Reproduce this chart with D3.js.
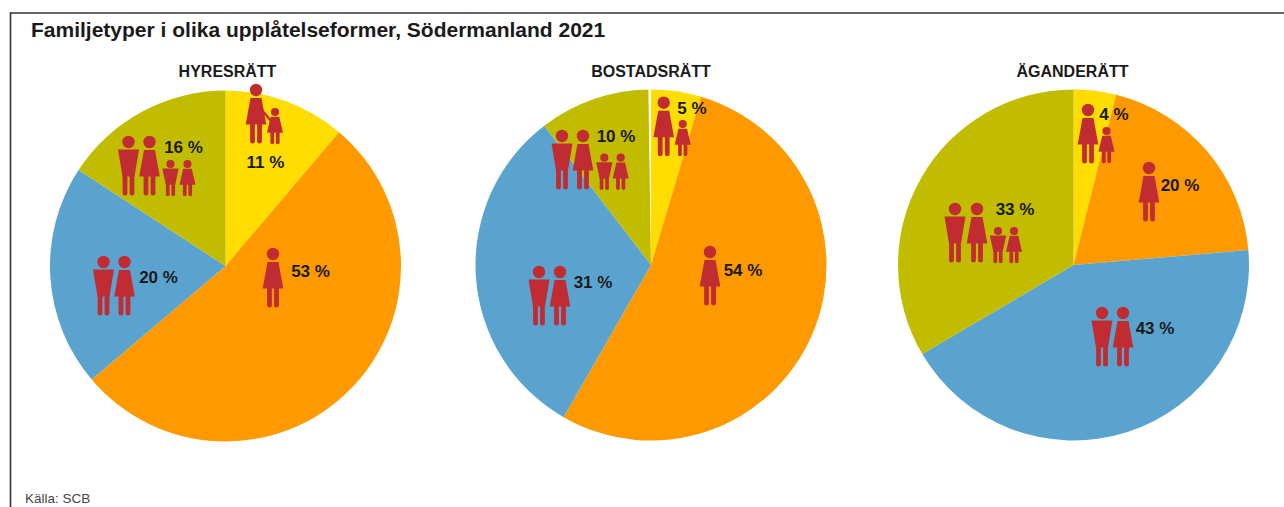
<!DOCTYPE html>
<html>
<head>
<meta charset="utf-8">
<script src="https://cdn.jsdelivr.net/npm/d3@7"></script>
<style>
  html, body { margin: 0; padding: 0; background: #fff; }
  svg { display: block; }
  text { font-family: "Liberation Sans", sans-serif; fill: #1a1a1a; }
</style>
</head>
<body>
<svg width="1284" height="507"></svg>
<script>
// values, share of families in percent
// the slices are a bit finer than the printed labels, which are rounded
var tenures = ["HYRESRÄTT", "BOSTADSRÄTT", "ÄGANDERÄTT"];
var familyTypes = ["Ensamstående med barn", "Ensamstående", "Par utan barn", "Par med barn"];
var hyresratt = [11.2, 52.6, 20.4, 15.8];
var bostadsratt = [4.6, 53.7, 31.3, 10.4];
var aganderatt = [3.9, 19.7, 42.8, 33.4];
var allValues = [hyresratt, bostadsratt, aganderatt];

var colors = ["#ffdd00", "#ff9900", "#5ba3cf", "#c2bc00"];
var iconRed = "#c12c33";

var svg = d3.select("svg");
var radius = 175.5;
var centers = [[225.5, 266], [651, 265], [1073.5, 265]];
var headingX = [227.5, 651, 1072.5];

// frame, only top and left are drawn
svg.append("path")
  .attr("d", "M1284,13H10.5V507")
  .attr("fill", "none")
  .attr("stroke", "#333")
  .attr("stroke-width", 1.6);

svg.append("text")
  .attr("x", 31).attr("y", 37)
  .attr("font-size", 21).attr("font-weight", "bold")
  .text("Familjetyper i olika upplåtelseformer, Södermanland 2021");

svg.append("text")
  .attr("x", 25).attr("y", 503)
  .attr("font-size", 13.5)
  .style("fill", "#444")
  .text("Källa: SCB");

var pie = d3.pie().sort(null);
var arc = d3.arc().innerRadius(0).outerRadius(radius);

// icons: m = man, w = woman, scale 1 for adults and 0.6 for kids
// one entry per slice, x/y are head centres relative to the pie centre
var iconLayout = [
  [
    { people: [["w", 30.5, -176, 1], ["w", 49.5, -154, 0.6]], arm: true, label: [40, -104] },
    { people: [["w", 47.5, -12, 1]], label: [85, 5] },
    { people: [["m", -122, -4, 1], ["w", -101, -4, 1]], label: [-67, 11] },
    { people: [["m", -97, -124, 1], ["w", -76, -124, 1], ["m", -55, -102, 0.6], ["w", -38, -102, 0.6]], label: [-42, -119] }
  ],
  [
    { people: [["w", 12.7, -162.3, 1], ["w", 31.7, -141, 0.6]], label: [41, -157] },
    { people: [["w", 59, -13, 1]], label: [92, 5] },
    { people: [["m", -112, 7, 1], ["w", -91, 7, 1]], label: [-58, 17] },
    { people: [["m", -89, -129, 1], ["w", -68, -129, 1], ["m", -46.7, -107.3, 0.6], ["w", -30.3, -107.3, 0.6]], label: [-35, -129] }
  ],
  [
    { people: [["w", 14.5, -155, 1], ["w", 33, -134, 0.6]], label: [40.5, -151] },
    { people: [["w", 75.5, -97, 1]], label: [106.5, -80] },
    { people: [["m", 28.5, 48, 1], ["w", 49.5, 48, 1]], label: [81.5, 63] },
    { people: [["m", -118.5, -56, 1], ["w", -96.5, -56, 1], ["m", -75.5, -34, 0.6], ["w", -59.5, -34, 0.6]], label: [-58.5, -56] }
  ]
];

function drawPerson(g, kind, x, y, s) {
  // kids are stockier than a scaled down adult, so the body gets wider than the head
  var sx = s < 1 ? s * 1.3 : s;
  var p = g.append("g")
    .attr("transform", "translate(" + x + "," + y + ")")
    .attr("fill", iconRed);
  p.append("circle").attr("r", 6.2 * (s < 1 ? 0.66 : 1));
  var b = p.append("g").attr("transform", "scale(" + sx + "," + s + ")");
  if (kind == "m") {
    b.append("path").attr("d", "M-10.5,7.5H10.5L6,34.5H-6Z");
  } else {
    b.append("path").attr("d", "M-5.5,8H5.5L10.3,34.5H-10.3Z");
  }
  b.append("path").attr("d", "M-5.9,30V51.2a2.3,2.3 0 0 0 4.8,0V30Z");
  b.append("path").attr("d", "M1.1,30V51.2a2.3,2.3 0 0 0 4.8,0V30Z");
}

tenures.forEach(function(name, i) {
  var g = svg.append("g")
    .attr("transform", "translate(" + centers[i][0] + "," + centers[i][1] + ")");

  svg.append("text")
    .attr("x", headingX[i]).attr("y", 76.5)
    .attr("text-anchor", "middle")
    .attr("font-size", 16).attr("font-weight", "bold")
    .text(name);

  g.selectAll(".slice")
    .data(pie(allValues[i]))
    .enter().append("path")
    .attr("class", "slice")
    .attr("d", arc)
    .attr("fill", function(d, j) { return colors[j]; });

  // the middle pie has a thin white wedge at twelve o'clock
  if (i == 1) {
    g.append("path")
      .attr("d", d3.arc().innerRadius(0).outerRadius(radius + 1)({ startAngle: -0.015, endAngle: 0 }))
      .attr("fill", "#fff");
  }

  iconLayout[i].forEach(function(slice, j) {
    slice.people.forEach(function(a) {
      drawPerson(g, a[0], a[1], a[2], a[3]);
    });
    if (slice.arm) {
      g.append("line")
        .attr("x1", slice.people[0][1] + 5).attr("y1", slice.people[0][2] + 19)
        .attr("x2", slice.people[1][1] - 4).attr("y2", slice.people[1][2] + 9)
        .attr("stroke", iconRed).attr("stroke-width", 2.4);
    }
    g.append("text")
      .attr("x", slice.label[0]).attr("y", slice.label[1] + 5.5)
      .attr("text-anchor", "middle")
      .attr("font-size", 17).attr("font-weight", "bold")
      .text(Math.round(allValues[i][j]) + " %");
  });
});
</script>
</body>
</html>
